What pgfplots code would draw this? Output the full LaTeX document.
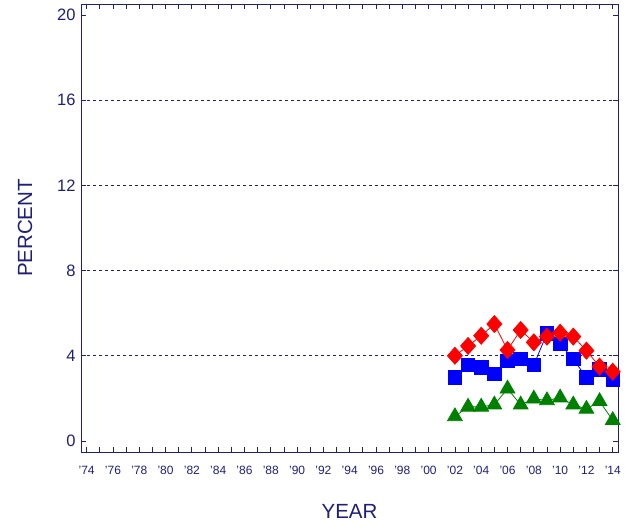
\documentclass[border=0pt]{standalone}
\usepackage{fontspec}
\setmainfont{Liberation Sans}
\usepackage{pgfplots}
\pgfplotsset{compat=1.18}
\definecolor{navy}{RGB}{31,31,120}
\definecolor{mred}{RGB}{255,0,0}
\definecolor{mblue}{RGB}{0,0,255}
\definecolor{mgreen}{RGB}{0,128,0}
\begin{document}
\begin{tikzpicture}
\begin{axis}[
  name=ax,
  scale only axis,
  width=537pt, height=448pt,
  xmin=1973.57, xmax=2014.4,
  ymin=-0.52, ymax=20.52,
  axis line style={navy, line width=0.9pt},
  tick style={navy, line width=0.8pt},
  tick align=inside,
  major tick length=5pt, minor tick length=5pt,
  xtick={1974,1976,...,2014},
  minor xtick={1975,1977,...,2013},
  xticklabels={'74,'76,'78,'80,'82,'84,'86,'88,'90,'92,'94,'96,'98,'00,'02,'04,'06,'08,'10,'12,'14},
  xticklabel style={font=\fontsize{12}{13}\selectfont, text=navy, yshift=-10.5pt},
  ytick={0,4,...,20},
  yticklabel style={font=\fontsize{16.5}{18}\selectfont, text=navy, xshift=-2pt},
  extra y ticks={4,8,12,16},
  extra y tick labels={},
  extra y tick style={grid=major, major grid style={navy, dashed, line width=0.7pt}, major tick length=0pt},
  /pgf/number format/assume math mode=true,
  xlabel={YEAR}, ylabel={PERCENT},
  every axis x label/.style={at={(axis description cs:0.5,-0.1317)}, anchor=center, font=\fontsize{20.5}{22}\selectfont, text=navy},
  every axis y label/.style={at={(axis description cs:-0.1043,0.5)}, rotate=90, anchor=center, font=\fontsize{20.5}{22}\selectfont, text=navy},
  clip=false,
]
\addplot[mgreen, line width=0.8pt, mark=triangle*, mark size=8.5pt, mark options={solid, fill=mgreen, draw=mgreen}] coordinates {
(2002,1.15) (2003,1.6) (2004,1.6) (2005,1.7) (2006,2.45) (2007,1.7) (2008,1.98) (2009,1.9) (2010,2.03) (2011,1.7) (2012,1.5) (2013,1.86) (2014,0.97)
};
\addplot[mblue, line width=0.8pt, mark=square*, mark size=6.8pt, mark options={solid, fill=mblue, draw=mblue}] coordinates {
(2002,2.97) (2003,3.57) (2004,3.44) (2005,3.15) (2006,3.76) (2007,3.85) (2008,3.57) (2009,5.05) (2010,4.55) (2011,3.85) (2012,2.97) (2013,3.36) (2014,2.86)
};
\addplot[mred, line width=0.8pt, mark=square*, mark size=6pt, mark options={solid, xscale=0.88, rotate=45, fill=mred, draw=mred}] coordinates {
(2002,4.0) (2003,4.46) (2004,4.94) (2005,5.49) (2006,4.27) (2007,5.21) (2008,4.63) (2009,4.9) (2010,5.08) (2011,4.9) (2012,4.24) (2013,3.49) (2014,3.25)
};
\end{axis}
\path ([shift={(-81pt,-73pt)}]ax.south west) rectangle ([shift={(10pt,4pt)}]ax.north east);
\end{tikzpicture}
\end{document}
